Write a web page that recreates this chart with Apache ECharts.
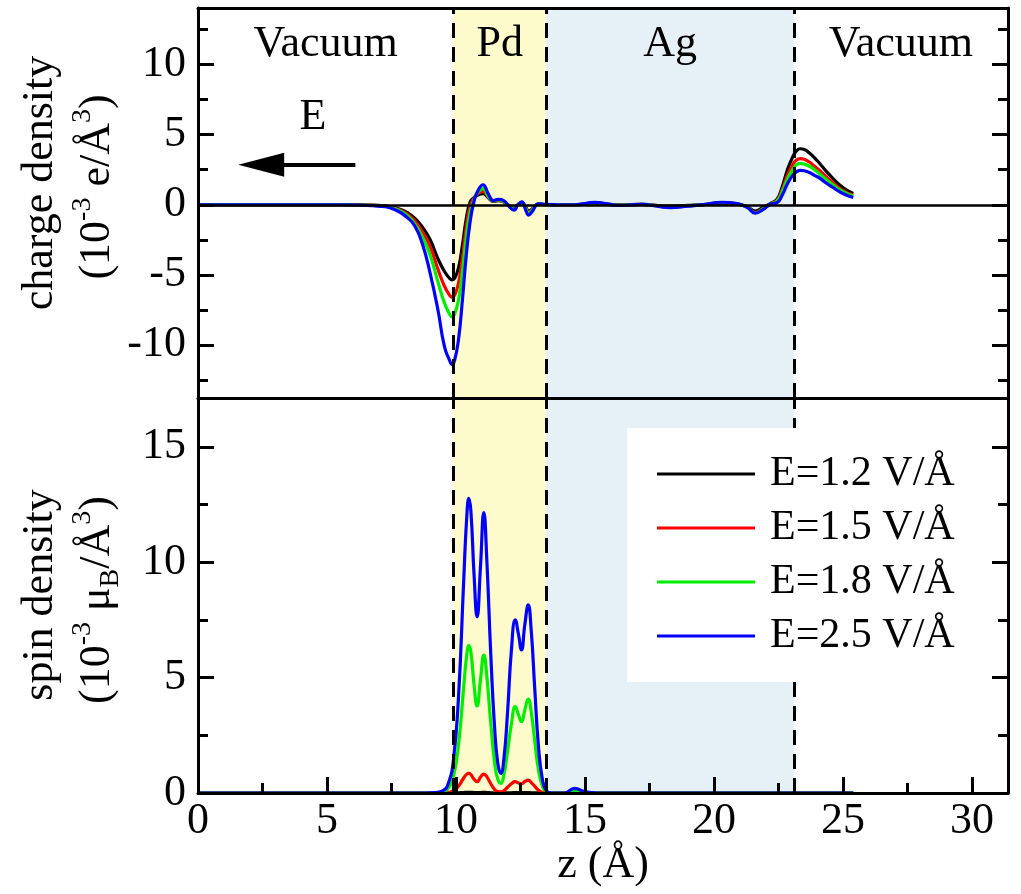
<!DOCTYPE html>
<html>
<head>
<meta charset="utf-8">
<script src="https://cdn.jsdelivr.net/npm/echarts@6/dist/echarts.min.js"></script>
<style>
  html, body { margin: 0; padding: 0; background: #fff; }
  #chart { width: 1021px; height: 894px; }
</style>
</head>
<body>
<div id="chart"></div>
<script>
// Field strengths and line colours
const seriesNames = ['E=1.2 V/Å', 'E=1.5 V/Å', 'E=1.8 V/Å', 'E=2.5 V/Å'];
const seriesColors = ['#000000', '#ff0000', '#00ee00', '#0000ff'];

// Induced charge density along z (10^-3 e/Å^3)
const zCharge = [0, 5.5, 6.5, 7.0, 7.4, 7.8, 8.1, 8.4, 8.7, 9.0, 9.3, 9.55, 9.75, 9.85, 9.95, 10.1, 10.25, 10.4, 10.55, 10.7,
  10.85, 11.05, 11.25, 11.45, 11.65, 11.85, 12.05, 12.25, 12.4, 12.55, 12.7, 12.82, 12.95, 13.2, 13.5, 14.0, 14.6, 15.4, 16.3, 17.2,
  18.3, 19.0, 19.7, 20.3, 20.9, 21.3, 21.6, 21.9, 22.2, 22.45, 22.65, 22.85, 23.05, 23.2, 23.35, 23.5, 23.7, 23.9, 24.1, 24.35,
  24.6, 24.85, 25.1, 25.4];
const chargeE12 = [0, 0, -0.02, -0.05, -0.12, -0.3, -0.55, -0.95, -1.6, -2.5, -3.85, -4.75, -5.25, -5.36, -5.25, -4.5, -2.9, -1.0, 0.2, 0.5,
  0.7, 0.8, 0.5, 0.25, 0.3, 0.2, -0.05, -0.25, 0, 0.15, -0.15, -0.45, -0.3, 0.05, 0, 0, 0, 0.1, 0, 0.03,
  -0.1, -0.05, 0.02, 0.12, 0.05, -0.15, -0.45, -0.2, 0.1, 0.4, 1.3, 2.5, 3.4, 3.85, 4.0, 3.95, 3.7, 3.35, 2.95, 2.4,
  1.9, 1.45, 1.1, 0.8];
const chargeE15 = [0, 0, -0.02, -0.06, -0.14, -0.35, -0.65, -1.15, -1.95, -3.0, -4.6, -5.8, -6.45, -6.6, -6.45, -5.6, -3.8, -1.6, -0.1, 0.45,
  0.8, 0.95, 0.55, 0.27, 0.32, 0.2, -0.07, -0.3, 0, 0.17, -0.2, -0.55, -0.35, 0.05, 0, 0, 0, 0.12, -0.02, 0.03,
  -0.15, -0.07, 0.02, 0.15, 0.06, -0.18, -0.55, -0.28, 0.08, 0.32, 1.1, 2.1, 2.85, 3.2, 3.3, 3.25, 3.05, 2.75, 2.45, 2.0,
  1.6, 1.2, 0.92, 0.7];
const chargeE18 = [0, 0, -0.03, -0.07, -0.16, -0.4, -0.75, -1.35, -2.3, -3.6, -5.5, -7.0, -7.8, -8.0, -7.8, -6.8, -4.8, -2.3, -0.5, 0.35,
  0.9, 1.15, 0.6, 0.28, 0.35, 0.22, -0.08, -0.33, 0, 0.18, -0.25, -0.6, -0.4, 0.05, 0, 0, 0, 0.14, -0.03, 0.03,
  -0.17, -0.08, 0.02, 0.16, 0.07, -0.19, -0.58, -0.3, 0.06, 0.28, 0.95, 1.85, 2.5, 2.85, 2.95, 2.9, 2.75, 2.5, 2.2, 1.8,
  1.45, 1.1, 0.85, 0.62];
const chargeE25 = [0, 0, -0.04, -0.1, -0.2, -0.5, -0.9, -1.5, -2.8, -4.9, -7.5, -10.1, -11.1, -11.4, -11.1, -9.6, -6.8, -3.6, -1.2, 0.25,
  1.0, 1.43, 0.8, 0.3, 0.38, 0.3, -0.1, -0.38, 0, 0.2, -0.35, -0.75, -0.5, 0.07, 0.02, 0, 0, 0.17, -0.05, 0.03,
  -0.2, -0.1, 0.03, 0.18, 0.08, -0.2, -0.6, -0.35, 0.05, 0.15, 0.7, 1.5, 2.1, 2.35, 2.45, 2.43, 2.3, 2.1, 1.9, 1.55,
  1.25, 0.95, 0.72, 0.52];

// Spin density along z (10^-3 μB/Å^3)
const zSpin = [0, 8.8, 9.2, 9.5, 9.7, 9.9, 10.1, 10.3, 10.42, 10.5, 10.58, 10.7, 10.82, 10.95, 11.08, 11.2, 11.35, 11.5, 11.62, 11.74,
  11.86, 12.0, 12.15, 12.3, 12.42, 12.54, 12.67, 12.8, 12.92, 13.05, 13.2, 13.35, 13.5, 13.7, 14.2, 14.6, 15.0, 15.5, 25.4];
const spinE12 = [0, 0, 0, 0, 0, 0, 0.01, 0.02, 0.03, 0.03, 0.03, 0.02, 0.02, 0.02, 0.03, 0.02, 0.01, 0, 0, 0,
  0, 0.01, 0.01, 0.02, 0.02, 0.02, 0.02, 0.02, 0.01, 0.01, 0, 0, 0, 0, 0, 0, 0, 0, 0];
const spinE15 = [0, 0, 0, 0, 0.03, 0.1, 0.3, 0.65, 0.82, 0.85, 0.8, 0.6, 0.49, 0.68, 0.82, 0.7, 0.4, 0.15, 0.06, 0.05,
  0.1, 0.25, 0.4, 0.49, 0.43, 0.4, 0.5, 0.56, 0.45, 0.3, 0.12, 0.03, 0, 0, 0, 0, 0, 0, 0];
const spinE18 = [0, 0, 0, 0.05, 0.2, 0.7, 2.1, 4.6, 6.0, 6.39, 6.1, 4.7, 3.77, 4.9, 5.98, 5.0, 3.0, 1.3, 0.6, 0.42,
  0.8, 1.8, 3.0, 3.74, 3.4, 3.09, 3.6, 4.07, 3.5, 2.3, 1.0, 0.3, 0.05, 0, 0, 0.08, 0.02, 0, 0];
const spinE25 = [0, 0, 0.02, 0.1, 0.4, 1.4, 4.2, 9.2, 12.0, 12.77, 12.2, 9.5, 7.64, 9.8, 12.15, 10.0, 6.0, 2.8, 1.3, 0.85,
  1.5, 3.5, 6.2, 7.5, 6.9, 6.2, 7.3, 8.15, 7.0, 4.6, 2.0, 0.6, 0.1, 0, 0, 0.2, 0.05, 0, 0];

// Slab layers: boundaries along z, names and fills
const layerBounds = [0, 9.9, 13.5, 23.1, 31.4];
const layerNames = ['Vacuum', 'Pd', 'Ag', 'Vacuum'];
const layerColors = ['rgba(255,255,255,0)', '#fdfbcc', '#e6f1f7', 'rgba(255,255,255,0)'];

// Axis ranges and ticks
const zRange = [0, 31.4];
const chargeRange = [-13.8, 14.05];
const spinRange = [0, 17.12];
const zTicks = [0, 5, 10, 15, 20, 25, 30];
const zMinorTicks = [2.5, 7.5, 12.5, 17.5, 22.5, 27.5];
const chargeTicks = [-10, -5, 0, 5, 10];
const chargeMinorTicks = [-12.5, -7.5, -2.5, 2.5, 7.5, 12.5];
const spinTicks = [0, 5, 10, 15];
const spinMinorTicks = [2.5, 7.5, 12.5];

// Field direction arrow (tail, head centre) and its label, in data units
const fieldArrow = [[6.1, 2.86], [2.45, 2.86]];
const fieldLabelPos = [4.46, 6.2];

const FONT = '"Liberation Serif", "Times New Roman", serif';
const FS = 44;
const pairs = (xs, ys) => xs.map((x, i) => [x, ys[i]]);

function axisBase(gridIndex, position, range) {
  return {
    type: 'value', gridIndex, position, min: range[0], max: range[1], z: 10,
    axisLine: { show: false, onZero: false, lineStyle: { color: '#000', width: 3 } },
    axisTick: { show: false },
    axisLabel: { show: false },
    splitLine: { show: false }
  };
}
function withLine(a) { a.axisLine.show = true; return a; }
function withTicks(a, values, len) {
  a.axisTick = { show: true, inside: true, length: len, customValues: values, lineStyle: { color: '#000', width: 3 } };
  return a;
}
function withLabels(a, values, margin) {
  a.axisLabel = { show: true, customValues: values, margin, fontSize: FS, fontFamily: FONT, color: '#000' };
  return a;
}

const gridTop = { left: 198, right: 13, top: 8, height: 390 };
const gridBottom = { left: 198, right: 13, top: 398, height: 395 };

const xAxes = [
  withLine(axisBase(0, 'bottom', zRange)),
  withLine(axisBase(0, 'top', zRange)),
  withLabels(withTicks(withLine(axisBase(1, 'bottom', zRange)), zTicks, 16), zTicks, 6),
  axisBase(1, 'top', zRange),
  axisBase(2, 'bottom', zRange),
  withTicks(axisBase(3, 'bottom', zRange), zMinorTicks, 10)
];
xAxes[2].name = 'z (Å)';
xAxes[2].nameLocation = 'middle';
xAxes[2].nameGap = 48;
xAxes[2].nameTextStyle = { fontSize: FS, fontFamily: FONT, color: '#000' };

const yAxes = [
  withLabels(withTicks(withLine(axisBase(0, 'left', chargeRange)), chargeTicks, 16), chargeTicks, 12),
  withTicks(withLine(axisBase(0, 'right', chargeRange)), chargeTicks, 16),
  withLabels(withTicks(withLine(axisBase(1, 'left', spinRange)), spinTicks, 16), spinTicks, 12),
  withTicks(withLine(axisBase(1, 'right', spinRange)), spinTicks, 16),
  withTicks(axisBase(2, 'left', chargeRange), chargeMinorTicks, 10),
  withTicks(axisBase(2, 'right', chargeRange), chargeMinorTicks, 10),
  withTicks(axisBase(3, 'left', spinRange), spinMinorTicks, 10),
  withTicks(axisBase(3, 'right', spinRange), spinMinorTicks, 10)
];

function layerAreas(withLabel) {
  return layerNames.map((name, i) => [
    { xAxis: layerBounds[i], name, itemStyle: { color: layerColors[i] }, label: { show: withLabel } },
    { xAxis: layerBounds[i + 1] }
  ]);
}
const dashStyle = { color: '#000', width: 3, type: [15, 9] };
const boundaryLines = layerBounds.slice(1, 4).map(z => ({ xAxis: z }));

function curve(name, color, xs, ys, axisIndex) {
  return {
    name, type: 'line', xAxisIndex: axisIndex, yAxisIndex: axisIndex,
    data: pairs(xs, ys), showSymbol: false, symbol: 'none',
    smooth: 0.5,
    lineStyle: { color, width: 3.2 }, itemStyle: { color },
    z: 3
  };
}

const chargeSets = [chargeE12, chargeE15, chargeE18, chargeE25];
const spinSets = [spinE12, spinE15, spinE18, spinE25];

const series = [
  {
    name: 'layersTop', type: 'line', xAxisIndex: 0, yAxisIndex: 0, data: [],
    markArea: {
      silent: true, z: 1,
      label: { show: true, position: 'insideTop', distance: 14, fontSize: FS, fontFamily: FONT, color: '#000' },
      data: layerAreas(true)
    }
  },
  {
    name: 'layersBottom', type: 'line', xAxisIndex: 2, yAxisIndex: 2, data: [],
    markArea: { silent: true, z: 1, label: { show: false }, data: layerAreas(false) }
  },
  ...seriesNames.map((n, i) => curve(n, seriesColors[i], zCharge, chargeSets[i], 0)),
  ...seriesNames.map((n, i) => curve(n, seriesColors[i], zSpin, spinSets[i], 2)),
  {
    name: 'guidesTop', type: 'line', xAxisIndex: 0, yAxisIndex: 0, data: [],
    markLine: {
      silent: true, z: 5, symbol: 'none', label: { show: false },
      data: [
        ...boundaryLines.map(d => Object.assign({ lineStyle: dashStyle }, d)),
        { yAxis: 0, lineStyle: { color: '#000', width: 2.5, type: 'solid' } },
        [
          { coord: fieldArrow[0], symbol: 'none', lineStyle: { color: '#000', width: 4, type: 'solid' } },
          { coord: fieldArrow[1], symbol: 'triangle', symbolSize: [24, 46] }
        ]
      ]
    },
    markPoint: {
      silent: true, z: 5,
      data: [{
        coord: fieldLabelPos, symbol: 'circle', symbolSize: 1,
        itemStyle: { color: 'rgba(0,0,0,0)' },
        label: { show: true, position: 'inside', formatter: 'E', fontSize: FS, fontFamily: FONT, color: '#000' }
      }]
    }
  },
  {
    name: 'guidesBottom', type: 'line', xAxisIndex: 2, yAxisIndex: 2, data: [],
    markLine: {
      silent: true, z: 5, symbol: 'none', label: { show: false },
      data: boundaryLines.map(d => Object.assign({ lineStyle: dashStyle }, d))
    }
  }
];

const supRich = {
  sup: { fontSize: 28, fontFamily: FONT, verticalAlign: 'top', lineHeight: 56 },
  sub: { fontSize: 28, fontFamily: FONT, verticalAlign: 'bottom', lineHeight: 56 }
};
function yTitle(text, x, y) {
  return {
    type: 'text', x, y, rotation: Math.PI / 2, silent: true, z: 10,
    style: {
      text, fill: '#000', fontSize: FS, fontFamily: FONT, lineHeight: 56,
      align: 'center', verticalAlign: 'middle', rich: supRich
    }
  };
}

const chart = echarts.init(document.getElementById('chart'), null, { renderer: 'canvas' });
chart.setOption({
  animation: false,
  backgroundColor: '#fff',
  textStyle: { fontFamily: FONT },
  grid: [gridTop, gridBottom, gridTop, gridBottom],
  xAxis: xAxes,
  yAxis: yAxes,
  legend: {
    data: seriesNames, orient: 'vertical', left: 627, top: 428, z: 10,
    backgroundColor: '#fff', padding: [24, 50, 24, 30], itemGap: 10,
    icon: 'rect', itemWidth: 98, itemHeight: 3, selectedMode: false,
    textStyle: { fontSize: 42, fontFamily: FONT, color: '#000', lineHeight: 44, padding: [0, 0, 0, 10] }
  },
  graphic: [
    yTitle('charge density', 40, 183),
    yTitle('(10{sup|-3} e/Å{sup|3})', 97, 187),
    yTitle('spin density', 40, 595),
    yTitle('(10{sup|-3} μ{sub|B}/Å{sup|3})', 97, 600)
  ],
  series
});
</script>
</body>
</html>
